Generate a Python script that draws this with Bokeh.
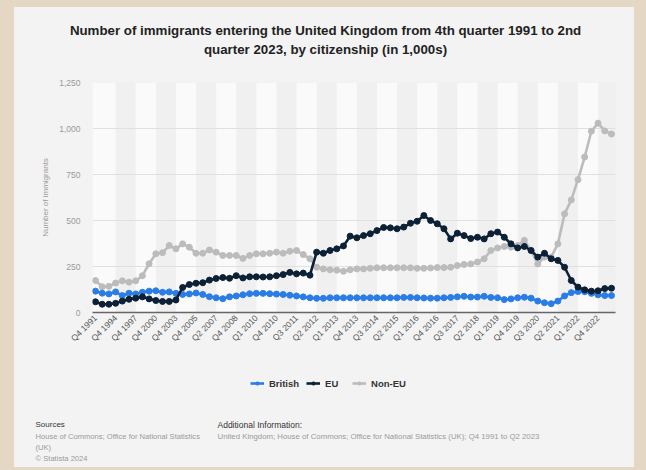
import math
from bokeh.plotting import figure
from bokeh.layouts import column
from bokeh.models import (Range1d, FixedTicker, NumeralTickFormatter,
                          Legend, LegendItem)
from bokeh.core.properties import value
from bokeh.embed import file_html
from bokeh.resources import INLINE

# ---------------- data ----------------
tick_labels = ["Q4 1991", "Q4 1994", "Q4 1997", "Q4 2000", "Q4 2003", "Q4 2005",
               "Q2 2007", "Q4 2008", "Q1 2010", "Q4 2010", "Q3 2011", "Q2 2012",
               "Q1 2013", "Q4 2013", "Q3 2014", "Q2 2015", "Q1 2016", "Q4 2016",
               "Q3 2017", "Q2 2018", "Q1 2019", "Q4 2019", "Q3 2020", "Q2 2021",
               "Q1 2022", "Q4 2022"]

british = [116, 105, 101, 112, 92, 105, 101, 110, 116, 118,
           110, 112, 104, 98, 101, 106, 98, 86, 80, 75,
           85, 90, 96, 102, 104, 104, 102, 100, 98, 94,
           90, 85, 80, 77, 77, 80, 80, 80, 80, 80,
           80, 80, 80, 80, 80, 80, 82, 82, 80, 79,
           78, 78, 80, 82, 85, 88, 84, 84, 88, 82,
           80, 70, 74, 80, 83, 78, 62, 53, 48, 62,
           90, 108, 114, 113, 104, 96, 92, 92]

eu = [58, 45, 45, 50, 62, 72, 78, 85, 74, 65,
      60, 60, 68, 136, 152, 159, 162, 176, 185, 190,
      186, 200, 188, 194, 194, 193, 194, 200, 206, 218,
      210, 214, 203, 328, 322, 337, 346, 362, 415, 406,
      418, 428, 445, 462, 460, 455, 464, 485, 496, 527,
      500, 482, 455, 400, 431, 418, 402, 409, 400, 428,
      437, 409, 373, 351, 359, 337, 301, 322, 292, 283,
      246, 174, 138, 123, 116, 118, 130, 132]

non_eu = [174, 140, 142, 160, 172, 165, 172, 200, 265, 319,
          325, 364, 346, 373, 355, 322, 322, 340, 328, 310,
          310, 310, 294, 310, 319, 319, 322, 328, 322, 333,
          337, 315, 292, 246, 237, 232, 230, 224, 232, 237,
          237, 240, 243, 243, 243, 243, 243, 243, 240, 240,
          242, 244, 244, 246, 255, 261, 264, 274, 292, 337,
          351, 359, 355, 364, 392, 337, 264, 301, 301, 373,
          536, 612, 722, 845, 985, 1029, 987, 970]

series_names = ["British", "EU", "Non-EU"]
y_ticks = [0, 250, 500, 750, 1000, 1250]

title_lines = ["Number of immigrants entering the United Kingdom from 4th quarter 1991 to 2nd",
               "quarter 2023, by citizenship (in 1,000s)"]
sources_lines = ["House of Commons; Office for National Statistics", "(UK)",
                 "\u00a9 Statista 2024"]
info_line = ("United Kingdom; House of Commons; Office for National Statistics (UK); "
             "Q4 1991 to Q2 2023")

# ---------------- styling ----------------
FONT = "Liberation Sans"
CARD = "#f3f3f3"
W = 620
colors = {"British": "#2b7de6", "EU": "#0c2136", "Non-EU": "#bcbcbc"}
data = {"British": british, "EU": eu, "Non-EU": non_eu}

x = list(range(len(british)))
tick_step = 3
x_ticks = [i * tick_step for i in range(len(tick_labels))]
X_RANGE = (-0.45, 77.6)


def text_panel(height):
    f = figure(width=W, height=height, x_range=Range1d(0, W), y_range=Range1d(height, 0),
               output_backend="svg", toolbar_location=None,
               x_axis_type=None, y_axis_type=None,
               min_border=0, min_border_left=0, min_border_right=0,
               min_border_top=0, min_border_bottom=0,
               background_fill_color=CARD, border_fill_color=CARD,
               outline_line_color=None, frame_align=False)
    f.xgrid.visible = False
    f.ygrid.visible = False
    return f


def put_text(f, xs, ys, txt, size, color, style="normal", align="left"):
    f.text(x=[xs], y=[ys], text=[txt], text_font=value(FONT),
           text_font_size=value(size), text_color=color,
           text_font_style=style, text_align=align, text_baseline="middle")


# ---------------- header ----------------
header = text_panel(60)
put_text(header, 311, 23, title_lines[0], "13.3px", "#222222", "bold", "center")
put_text(header, 311, 42, title_lines[1], "13.3px", "#222222", "bold", "center")

# ---------------- main chart ----------------
p = figure(width=W, height=290,
           x_range=Range1d(*X_RANGE), y_range=Range1d(0, 1250),
           output_backend="svg", toolbar_location=None,
           min_border_left=78, min_border_right=19,
           min_border_top=15, min_border_bottom=45,
           background_fill_color="#f0f0f0", border_fill_color=CARD,
           outline_line_color=None, frame_align=False)

band_left = [(-1 if t == 0 else t) for t in x_ticks[::2]]
band_right = [t + tick_step for t in x_ticks[::2]]
bands = p.quad(left=band_left, right=band_right, bottom=0, top=1250,
               fill_color="#fafafa", line_color=None)
bands.level = "image"

p.xgrid.visible = False
p.ygrid.grid_line_color = "#e0e0e0"
p.ygrid.grid_line_width = 1

p.yaxis.ticker = FixedTicker(ticks=y_ticks)
p.yaxis.formatter = NumeralTickFormatter(format="0,0")
p.yaxis.axis_line_color = None
p.yaxis.major_tick_line_color = None
p.yaxis.minor_tick_line_color = None
p.yaxis.major_tick_out = 0
p.yaxis.major_tick_in = 0
p.yaxis.major_label_text_font = FONT
p.yaxis.major_label_text_font_size = "8.5px"
p.yaxis.major_label_text_color = "#9a9a9a"
p.yaxis.major_label_standoff = 12
p.yaxis.axis_label = "Number of immigrants"
p.yaxis.axis_label_text_font = FONT
p.yaxis.axis_label_text_font_size = "8px"
p.yaxis.axis_label_text_font_style = "normal"
p.yaxis.axis_label_text_color = "#9a9a9a"
p.yaxis.axis_label_standoff = 6

p.xaxis.ticker = FixedTicker(ticks=x_ticks)
p.xaxis.major_label_overrides = {t: lab for t, lab in zip(x_ticks, tick_labels)}
p.xaxis.major_label_orientation = math.pi / 4
p.xaxis.major_label_text_font = FONT
p.xaxis.major_label_text_font_size = "8.5px"
p.xaxis.major_label_text_color = "#555555"
p.xaxis.major_label_standoff = 4
p.xaxis.major_tick_out = 0
p.xaxis.major_tick_in = 0
p.xaxis.axis_line_color = "#666666"
p.xaxis.axis_line_width = 1.5
p.xaxis.major_tick_line_color = None
p.xaxis.minor_tick_line_color = None

for name in ["Non-EU", "British", "EU"]:
    c = colors[name]
    p.line(x, data[name], line_width=2.6, color=c)
    p.scatter(x, data[name], size=6, color=c)

# ---------------- footer (legend + sources) ----------------
FH = 110
footer = text_panel(FH)
# the legend keys reuse the series on an off-screen range of the footer panel
footer.extra_x_ranges = {"key": Range1d(*X_RANGE)}
footer.extra_y_ranges = {"key": Range1d(5000, 6000)}
key_rends = {}
for name in series_names:
    c = colors[name]
    ln = footer.line(x, data[name], line_width=2.6, color=c,
                     x_range_name="key", y_range_name="key")
    sc = footer.scatter(x, data[name], size=6, color=c,
                        x_range_name="key", y_range_name="key")
    key_rends[name] = [ln, sc]

legend = Legend(items=[LegendItem(label=n, renderers=key_rends[n]) for n in series_names],
                orientation="horizontal", location=(236, FH - 26 - 6),
                background_fill_alpha=0, border_line_alpha=0,
                label_text_font=FONT, label_text_font_size="9.5px",
                label_text_font_style="bold", label_text_color="#333333",
                glyph_width=14, glyph_height=8, spacing=7, label_standoff=5,
                padding=0, margin=0, label_height=12)
footer.add_layout(legend, "center")

put_text(footer, 21, 67, "Sources", "8px", "#333333")
for k, line in enumerate(sources_lines):
    put_text(footer, 21, 79 + 11 * k, line, "7.6px", "#9a9a9a")
put_text(footer, 203, 67, "Additional Information:", "8.5px", "#333333")
put_text(footer, 203, 79, info_line, "7.8px", "#9a9a9a")

layout = column(header, p, footer, spacing=0,
                styles={"background-color": CARD})

html = file_html(layout, INLINE)
css = ("<style>html, body { background-color: #e4d8c4; margin: 0; } "
       "body { padding: 7px 0 0 14px; }</style></head>")
html = html.replace("</head>", css, 1)
open("out.html", "w").write(html)
